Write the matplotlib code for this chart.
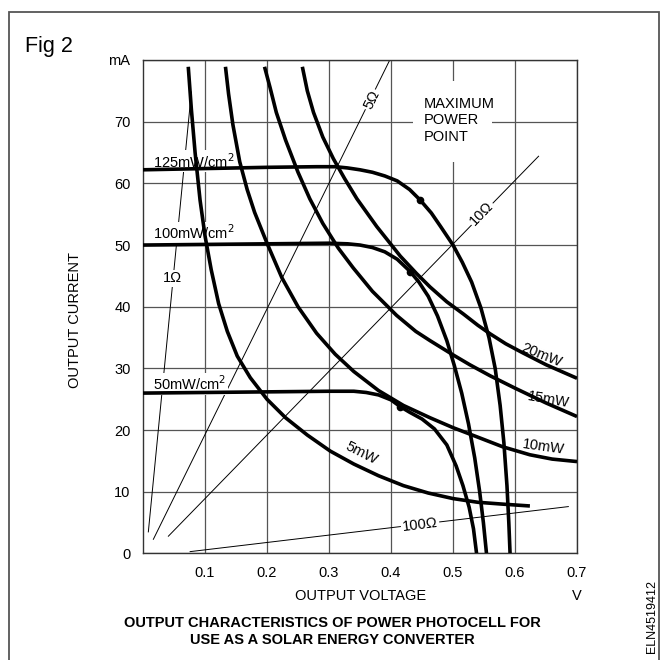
import numpy as np
import matplotlib.pyplot as plt
from matplotlib.patches import Rectangle

plt.rcParams['font.family'] = ['Liberation Sans', 'DejaVu Sans']

# illumination curves (V, mA)
v_125 = [0, 0.1, 0.2, 0.28, 0.31, 0.33, 0.35, 0.37, 0.39, 0.41, 0.43, 0.447, 0.465, 0.48, 0.5,
         0.515, 0.53, 0.545, 0.558, 0.568, 0.576, 0.582, 0.587, 0.59, 0.592]
i_125 = [62.2, 62.4, 62.6, 62.7, 62.7, 62.5, 62.2, 61.8, 61.2, 60.4, 59.0, 57.3, 55.2, 53.0, 50.0,
         47.2, 44.0, 39.8, 35.0, 30.0, 24.0, 18.0, 11.0, 5.0, 0]
v_100 = [0, 0.1, 0.2, 0.3, 0.33, 0.35, 0.37, 0.39, 0.41, 0.431, 0.445, 0.46, 0.475, 0.49, 0.502,
         0.514, 0.525, 0.535, 0.543, 0.549, 0.554]
i_100 = [50.0, 50.1, 50.2, 50.3, 50.2, 50.0, 49.6, 48.9, 47.7, 45.7, 44.0, 41.7, 38.5, 34.5, 30.5,
         26.0, 21.0, 15.5, 10.0, 5.0, 0]
v_50 = [0, 0.1, 0.2, 0.3, 0.34, 0.36, 0.38, 0.40, 0.415, 0.43, 0.45, 0.47, 0.49, 0.505, 0.516,
        0.526, 0.533, 0.538]
i_50 = [26.0, 26.1, 26.2, 26.3, 26.3, 26.1, 25.7, 24.9, 23.8, 22.9, 21.8, 20.2, 17.6, 14.2, 11.0,
        7.5, 4.0, 0]
mpp_v = [0.447, 0.431, 0.415]
mpp_i = [57.3, 45.7, 23.8]

# constant power curves
v_5mw = [0.073, 0.078, 0.084, 0.092, 0.100, 0.110, 0.122, 0.136, 0.152, 0.173, 0.2, 0.23, 0.265,
         0.302, 0.34, 0.38, 0.42, 0.46, 0.50, 0.54, 0.58, 0.624]
i_5mw = [78.9, 72.0, 65.0, 57.3, 51.5, 46.0, 40.5, 36.0, 32.0, 28.5, 25.0, 22.0, 19.2,
         16.6, 14.5, 12.6, 11.0, 9.8, 8.9, 8.3, 8.0, 7.7]
v_10mw = [0.133, 0.138, 0.145, 0.156, 0.168, 0.18, 0.2, 0.224, 0.25, 0.28, 0.31, 0.34, 0.38,
          0.42, 0.463, 0.5, 0.544, 0.58, 0.624, 0.66, 0.70]
i_10mw = [78.9, 74.5, 69.5, 63.5, 59.0, 55.3, 50.3, 44.7, 40.0, 35.7, 32.3, 29.5, 26.4,
          24.0, 22.0, 20.4, 18.7, 17.3, 16.0, 15.3, 14.9]
v_15mw = [0.196, 0.205, 0.215, 0.23, 0.25, 0.269, 0.29, 0.315, 0.339, 0.37, 0.409, 0.44, 0.463,
          0.5, 0.527, 0.56, 0.6, 0.65, 0.70]
i_15mw = [78.9, 75.5, 71.5, 67.0, 61.8, 57.5, 53.5, 49.5, 46.3, 42.5, 38.6, 36.0, 34.5,
          32.2, 30.6, 28.8, 26.8, 24.4, 22.2]
v_20mw = [0.257, 0.265, 0.275, 0.29, 0.307, 0.325, 0.345, 0.377, 0.415, 0.441, 0.463, 0.49,
          0.517, 0.54, 0.56, 0.585, 0.613, 0.65, 0.70]
i_20mw = [78.9, 75.0, 71.5, 67.5, 64.0, 60.8, 57.5, 53.0, 48.2, 45.4, 43.2, 40.8,
          38.8, 37.0, 35.6, 34.0, 32.5, 30.6, 28.4]

# load lines (end points)
v_1ohm = [0.0086, 0.078]
i_1ohm = [3.5, 74.8]
v_5ohm = [0.0167, 0.398]
i_5ohm = [2.3, 80.0]
v_10ohm = [0.0409, 0.638]
i_10ohm = [2.8, 64.4]
v_100ohm = [0.076, 0.686]
i_100ohm = [0.3, 7.6]

x_ticks = [0.1, 0.2, 0.3, 0.4, 0.5, 0.6, 0.7]
y_ticks = [0, 10, 20, 30, 40, 50, 60, 70]

fig = plt.figure(figsize=(6.67, 6.60), dpi=100)
ax = fig.add_axes([0.2144, 0.1614, 0.6507, 0.7477])

thick = dict(color='black', lw=2.6, zorder=4, solid_capstyle='butt', solid_joinstyle='round')
thin = dict(color='black', lw=0.7, zorder=2)
for v, i in [(v_125, i_125), (v_100, i_100), (v_50, i_50),
             (v_5mw, i_5mw), (v_10mw, i_10mw), (v_15mw, i_15mw), (v_20mw, i_20mw)]:
    ax.plot(v, i, **thick)
ax.plot(mpp_v, mpp_i, 'o', color='black', ms=4.5, zorder=5)

for v, i in [(v_1ohm, i_1ohm), (v_5ohm, i_5ohm), (v_10ohm, i_10ohm), (v_100ohm, i_100ohm)]:
    ax.plot(v, i, **thin)

wb = dict(facecolor='white', edgecolor='none', pad=1.0)
ax.text(0.016, 63.6, '125mW/cm$^2$', fontsize=10.5, va='center', bbox=wb, zorder=3)
ax.text(0.016, 52.0, '100mW/cm$^2$', fontsize=10.5, va='center', bbox=wb, zorder=3)
ax.text(0.016, 27.5, '50mW/cm$^2$', fontsize=10.5, va='center', bbox=wb, zorder=3)
ax.text(0.047, 44.6, '1Ω', fontsize=10.5, ha='center', va='center', bbox=wb, zorder=3)
ax.text(0.369, 73.5, '5Ω', fontsize=10.5, ha='center', va='center', rotation=64, bbox=wb, zorder=3)
ax.text(0.546, 55.1, '10Ω', fontsize=10.5, ha='center', va='center', rotation=46, bbox=wb, zorder=3)
ax.text(0.447, 4.6, '100Ω', fontsize=10.5, ha='center', va='center', rotation=7, bbox=wb, zorder=3)
ax.text(0.352, 16.3, '5mW', fontsize=10.5, ha='center', va='center', rotation=-27, zorder=6)
ax.text(0.645, 17.3, '10mW', fontsize=10.5, ha='center', va='center', rotation=-8, zorder=6)
ax.text(0.653, 24.9, '15mW', fontsize=10.5, ha='center', va='center', rotation=-10, zorder=6)
ax.text(0.642, 32.2, '20mW', fontsize=10.5, ha='center', va='center', rotation=-22, zorder=6)

# white gap in the grid behind the "maximum power point" note
ax.add_patch(Rectangle((0.435, 63.5), 0.128, 13.1, facecolor='white', edgecolor='none', zorder=1))
ax.text(0.452, 70.2, 'MAXIMUM\nPOWER\nPOINT', fontsize=10.5, va='center', linespacing=1.25, zorder=3)

ax.set_xlim(0, 0.7)
ax.set_ylim(0, 80)
ax.set_xticks(x_ticks)
ax.set_yticks(y_ticks + [80])
ax.set_xticklabels([f'{t:.1f}' for t in x_ticks])
ax.set_yticklabels([str(t) for t in y_ticks] + ['mA'])
ax.tick_params(length=0, labelsize=10.5, pad=9)
ax.set_axisbelow(True)
ax.grid(True, color='#555555', lw=0.9)
for s in ax.spines.values():
    s.set_color('#333333')
    s.set_linewidth(1.0)

fig.text(0.1125, 0.515, 'OUTPUT CURRENT', rotation=90, fontsize=10.5, ha='center', va='center')
fig.text(0.54, 0.097, 'OUTPUT VOLTAGE', fontsize=10.5, ha='center', va='center')
fig.text(0.865, 0.097, 'V', fontsize=10.5, ha='center', va='center')
fig.text(0.038, 0.93, 'Fig 2', fontsize=15.5, ha='left', va='center')
fig.text(0.498, 0.043, 'OUTPUT CHARACTERISTICS OF POWER PHOTOCELL FOR\nUSE AS A SOLAR ENERGY CONVERTER',
         fontsize=10.5, fontweight='bold', ha='center', va='center', linespacing=1.3)
fig.text(0.978, 0.066, 'ELN4519412', rotation=90, fontsize=9, ha='center', va='center')

fig.patches.append(Rectangle((0.0135, -0.05), 0.9745, 1.032, transform=fig.transFigure,
                             fill=False, edgecolor='#555555', lw=1.3))

fig.savefig('out.png', dpi=100)
